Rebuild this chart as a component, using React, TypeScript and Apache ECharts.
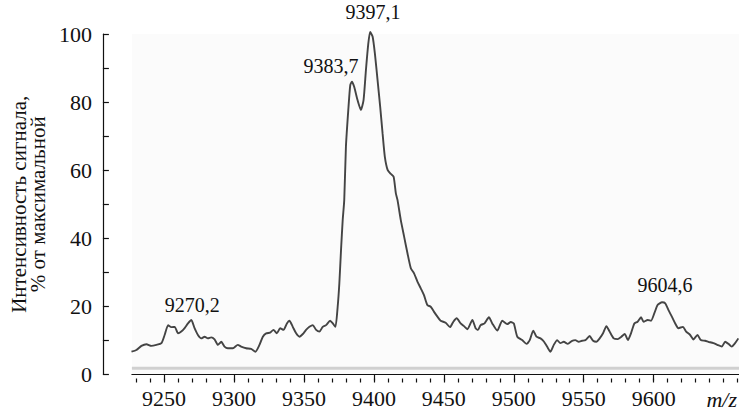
import React, { useEffect, useRef } from "react";
import * as echarts from "echarts";

// m/z values (x) and relative intensity (%)
const mzValues: number[] = [
  9226.7, 9230.2, 9233.8, 9237.4, 9240.9, 9244.5, 9248.1, 9250.4, 9252.9, 9255.2,
  9257.6, 9260.0, 9262.3, 9264.7, 9267.1, 9269.5, 9271.8, 9274.2, 9276.6, 9279.0,
  9281.3, 9283.7, 9286.1, 9288.5, 9290.9, 9293.2, 9295.6, 9299.2, 9302.7, 9305.1,
  9308.7, 9312.2, 9315.3, 9318.2, 9320.6, 9323.0, 9325.8, 9328.2, 9330.6, 9333.0,
  9335.4, 9337.8, 9339.6, 9342.0, 9344.4, 9346.8, 9349.2, 9351.5, 9353.9, 9356.3,
  9358.7, 9361.1, 9363.4, 9365.8, 9368.7, 9370.6, 9372.5, 9374.1, 9375.3, 9376.5,
  9377.7, 9378.8, 9380.0, 9381.7, 9383.1, 9384.3, 9385.9, 9388.3, 9390.7, 9392.6,
  9394.3, 9395.9, 9397.3, 9399.1, 9400.7, 9402.6, 9404.5, 9406.2, 9407.8, 9409.8,
  9412.1, 9414.1, 9415.7, 9416.9, 9419.2, 9421.6, 9424.0, 9426.4, 9428.7, 9431.1,
  9433.5, 9435.8, 9438.2, 9440.6, 9443.0, 9445.4, 9447.7, 9451.3, 9454.4, 9456.8,
  9459.2, 9462.0, 9464.4, 9466.8, 9470.4, 9472.7, 9474.4, 9476.3, 9479.1, 9482.2,
  9484.6, 9488.2, 9491.8, 9495.3, 9497.9, 9500.0, 9502.5, 9506.0, 9509.1, 9511.4,
  9513.9, 9516.2, 9519.1, 9521.5, 9523.8, 9526.2, 9528.6, 9531.0, 9533.3, 9535.7,
  9538.6, 9541.7, 9544.0, 9546.4, 9548.8, 9551.2, 9554.2, 9556.7, 9559.0, 9561.4,
  9563.8, 9566.2, 9568.5, 9571.4, 9574.3, 9576.9, 9579.3, 9581.6, 9583.8, 9586.2,
  9588.5, 9591.0, 9592.8, 9595.7, 9598.1, 9600.5, 9602.8, 9606.0, 9608.3, 9610.6,
  9613.0, 9615.4, 9617.7, 9620.9, 9623.2, 9626.1, 9628.4, 9631.3, 9633.7, 9636.8,
  9639.1, 9642.7, 9645.5, 9648.7, 9651.1, 9653.4, 9655.8, 9658.2, 9660.5,
];

const intensity: number[] = [
  6.7, 7.2, 8.4, 8.9, 8.4, 8.7, 9.2, 11.6, 14.5, 13.9,
  14.0, 12.1, 12.6, 13.6, 15.0, 16.0, 13.6, 11.6, 10.6, 11.1,
  10.6, 10.9, 10.3, 8.7, 9.6, 8.2, 7.7, 7.7, 8.7, 8.2,
  7.7, 7.5, 6.7, 8.7, 11.1, 12.1, 12.3, 13.1, 12.1, 13.6,
  13.1, 15.0, 15.8, 14.0, 12.1, 11.1, 11.9, 13.1, 14.0, 14.5,
  13.1, 12.6, 14.0, 14.5, 15.8, 15.0, 14.0, 19.9, 26.8, 36.6,
  45.4, 51.2, 66.9, 77.7, 85.0, 86.0, 84.5, 80.6, 77.7, 80.6,
  89.4, 96.8, 100.6, 99.2, 94.3, 86.5, 78.6, 70.8, 64.0, 60.1,
  58.9, 58.1, 53.2, 51.2, 45.4, 40.5, 35.6, 31.2, 29.7, 27.3,
  25.3, 23.3, 20.4, 19.9, 18.4, 17.0, 15.8, 15.2, 13.9, 15.5,
  16.5, 15.0, 14.2, 13.3, 16.0, 13.6, 13.1, 14.5, 15.0, 16.8,
  15.0, 12.9, 15.8, 14.8, 15.4, 15.0, 11.1, 10.1, 9.0, 10.1,
  12.9, 11.1, 10.6, 9.7, 8.2, 6.7, 8.7, 10.1, 9.2, 9.6,
  9.0, 9.9, 10.1, 9.6, 9.9, 10.1, 11.3, 9.9, 9.6, 10.6,
  12.1, 14.2, 12.6, 10.6, 10.4, 11.1, 11.9, 10.1, 12.1, 15.0,
  15.5, 16.8, 15.5, 16.0, 15.8, 18.0, 20.4, 21.2, 20.9, 18.9,
  17.0, 15.0, 13.6, 14.0, 12.6, 11.6, 10.3, 11.6, 10.1, 9.9,
  9.6, 9.2, 8.7, 8.2, 9.6, 9.0, 8.2, 9.2, 10.6,
];

// grey baseline drawn under the spectrum
const baselineLevel = 1.8;

// peak annotations
const peakLabels: string[] = ["9270,2", "9383,7", "9397,1", "9604,6"];
const peakMz: number[] = [9269.5, 9384.3, 9397.3, 9606.0];
const peakY: number[] = [16.0, 86.0, 100.0, 21.2];
const peakOffsets: [number, number][] = [[1, 0], [-21, 0], [3, -7], [3, -2]];

// axis ticks
const xMin = 9227;
const xMax = 9661;
const xMajorTicks: number[] = [9250, 9300, 9350, 9400, 9450, 9500, 9550, 9600];
const xMinorTicks: number[] = [];
for (let v = 9230; v <= 9660; v += 10) xMinorTicks.push(v);
const yLabelValues: number[] = [0, 20, 40, 60, 80, 100];

const FONT =
  '"Times New Roman", Times, "Liberation Serif", "Nimbus Roman", "Nimbus Roman No9 L", "DejaVu Serif", "Noto Serif", FreeSerif, serif';

export default function App() {
  const ref = useRef<HTMLDivElement>(null);

  useEffect(() => {
    document.body.style.margin = "0";
    if (!ref.current) return;
    const chart = echarts.init(ref.current, null, { renderer: "svg" });

    const lineData = mzValues.map((x, i) => [x, intensity[i]]);

    chart.setOption({
      animation: false,
      backgroundColor: "#ffffff",
      textStyle: { fontFamily: FONT },
      grid: {
        left: 130.5,
        right: 0,
        top: 34,
        bottom: 35.5,
        show: true,
        backgroundColor: "#fbfbfb",
        borderWidth: 0,
      },
      xAxis: [
        {
          type: "value",
          min: xMin,
          max: xMax,
          offset: 4,
          axisLine: { show: true, lineStyle: { color: "#111", width: 1.2 } },
          axisTick: {
            show: true,
            customValues: xMajorTicks,
            length: 6,
            lineStyle: { color: "#111", width: 1.2 },
          },
          axisLabel: {
            customValues: xMajorTicks,
            formatter: (v: number) => String(v),
            fontFamily: FONT,
            fontSize: 22,
            color: "#111",
            margin: 9,
          },
          splitLine: { show: false },
        },
        {
          type: "value",
          min: xMin,
          max: xMax,
          offset: 4,
          position: "bottom",
          axisLine: { show: false },
          axisTick: {
            show: true,
            customValues: xMinorTicks,
            length: 4,
            lineStyle: { color: "#111", width: 1.2 },
          },
          axisLabel: { show: false },
          splitLine: { show: false },
        },
      ],
      yAxis: {
        type: "value",
        min: 0,
        max: 100,
        interval: 10,
        offset: 29,
        name: "Интенсивность сигнала,\n% от максимальной",
        nameLocation: "middle",
        nameRotate: 90,
        nameGap: 52,
        nameTextStyle: {
          fontFamily: FONT,
          fontSize: 21,
          color: "#111",
          lineHeight: 19,
        },
        axisLine: { show: true, lineStyle: { color: "#111", width: 1.2 } },
        axisTick: {
          show: true,
          inside: true,
          length: 6,
          lineStyle: { color: "#111", width: 1.2 },
        },
        axisLabel: {
          customValues: yLabelValues,
          formatter: (v: number) => String(v),
          fontFamily: FONT,
          fontSize: 22,
          color: "#111",
          margin: 11,
        },
        splitLine: { show: false },
      },
      graphic: [
        {
          type: "text",
          right: 2,
          top: 388,
          style: {
            text: "m/z",
            fontFamily: FONT,
            fontSize: 22,
            fontStyle: "italic",
            fill: "#111",
          },
        },
      ],
      series: [
        {
          type: "line",
          xAxisIndex: 0,
          data: [
            [xMin, baselineLevel],
            [xMax, baselineLevel],
          ],
          symbol: "none",
          lineStyle: { color: "#d0d0d0", width: 3 },
          silent: true,
          z: 1,
        },
        {
          type: "line",
          xAxisIndex: 0,
          data: lineData,
          symbol: "none",
          smooth: 0.2,
          clip: false,
          lineStyle: { color: "#444444", width: 1.9 },
          z: 2,
          markPoint: {
            symbol: "circle",
            symbolSize: 1,
            itemStyle: { color: "rgba(0,0,0,0)" },
            label: {
              show: true,
              position: "top",
              distance: 5,
              fontFamily: FONT,
              fontSize: 20,
              color: "#111",
            },
            data: peakLabels.map((t, i) => ({
              coord: [peakMz[i], peakY[i]],
              value: t,
              label: { formatter: t, offset: peakOffsets[i] },
            })),
          },
        },
      ],
    });

    return () => chart.dispose();
  }, []);

  return (
    <div
      ref={ref}
      style={{ position: "absolute", left: 0, top: 0, width: 739, height: 410 }}
    />
  );
}
